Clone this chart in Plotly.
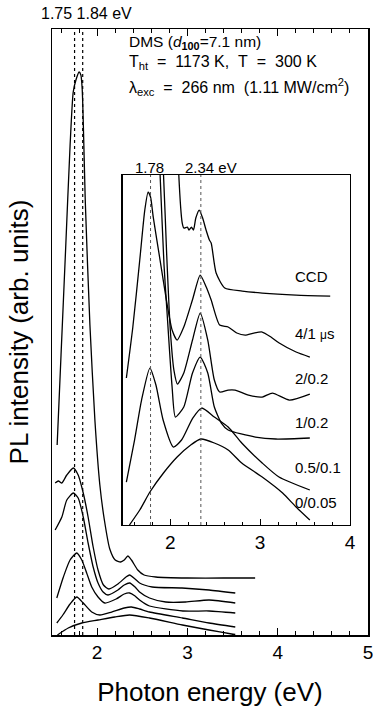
import plotly.graph_objects as go

# ---------------- main panel data (photon energy eV, intensity arb.) ----------------
ccd_main_e = [1.557, 1.60, 1.65, 1.70, 1.735, 1.765, 1.80, 1.82, 1.835, 1.87, 1.92, 1.975,
              2.03, 2.08, 2.14, 2.20, 2.26, 2.30, 2.34, 2.38, 2.45, 2.52, 2.65, 3.0, 3.4, 3.75]
ccd_main_i = [19.0, 28.0, 38.4, 48.9, 54.3, 55.5, 56.3, 56.0, 54.5, 43.0, 31.0, 21.5,
              15.0, 11.5, 8.6, 7.5, 7.3, 7.5, 7.9, 7.5, 6.5, 6.0, 5.8, 5.7, 5.7, 5.7]

g41_main_e = [1.535, 1.571, 1.609, 1.664, 1.736, 1.79, 1.846, 1.90, 1.956, 2.01, 2.07, 2.13,
              2.23, 2.32, 2.36, 2.42, 2.47, 2.61, 2.94, 3.24, 3.53]
g41_main_i = [15.2, 15.4, 15.2, 16.0, 16.7, 16.0, 14.2, 11.8, 8.8, 6.5, 5.0, 4.6,
              5.1, 5.8, 6.0, 5.6, 5.2, 4.8, 4.7, 4.5, 4.2]

g202_main_e = [1.535, 1.609, 1.664, 1.736, 1.79, 1.846, 1.90, 1.956, 2.01, 2.066, 2.12, 2.23,
               2.30, 2.36, 2.42, 2.47, 2.58, 2.76, 2.98, 3.24, 3.53]
g202_main_i = [10.5, 11.8, 13.5, 14.2, 13.7, 11.8, 9.2, 6.8, 5.2, 4.3, 4.0, 4.5,
               5.0, 5.2, 4.8, 4.3, 3.7, 3.3, 3.3, 3.5, 3.2]

g102_main_e = [1.553, 1.626, 1.70, 1.774, 1.83, 1.884, 1.94, 2.01, 2.085, 2.21, 2.30, 2.36,
               2.42, 2.47, 2.58, 2.95, 3.24, 3.53]
g102_main_i = [3.7, 5.8, 7.5, 8.2, 7.5, 6.2, 4.8, 3.8, 3.2, 3.6, 4.1, 4.2,
               3.9, 3.5, 2.9, 2.4, 2.4, 2.2]

g0501_main_e = [1.553, 1.62, 1.70, 1.774, 1.846, 1.94, 2.03, 2.16, 2.30, 2.38, 2.47, 2.58,
                2.945, 3.24, 3.53]
g0501_main_i = [1.2, 2.0, 3.1, 3.8, 3.2, 2.3, 2.0, 2.3, 2.7, 2.8, 2.6, 2.3,
                1.7, 1.2, 0.8]

g0005_main_e = [1.56, 1.68, 1.83, 2.01, 2.195, 2.36, 2.58, 2.945, 3.24, 3.49, 3.53]
g0005_main_i = [0.0, 0.7, 1.2, 1.5, 1.8, 2.0, 1.7, 1.0, 0.5, 0.1, 0.05]

main_marks = [1.75, 1.84]          # eV, dotted lines in main panel

# ---------------- inset data ----------------
ccd_ins_e = [2.085, 2.094, 2.133, 2.151, 2.19, 2.208, 2.235, 2.258, 2.284, 2.322, 2.36, 2.398,
             2.435, 2.455, 2.51, 2.606, 2.8, 3.023, 3.4, 3.78]
ccd_ins_i = [38.0, 35.1, 30.2, 29.7, 29.8, 29.5, 29.8, 29.5, 30.7, 31.5, 30.7, 29.5,
             28.5, 28.2, 25.2, 23.7, 23.4, 23.2, 23.0, 22.9]

g41_ins_e = [1.511, 1.583, 1.66, 1.716, 1.753, 1.78, 1.81, 1.886, 1.962, 2.02, 2.076, 2.15,
             2.246, 2.333, 2.40, 2.455, 2.549, 2.644, 2.74, 2.833, 2.93, 3.023, 3.12, 3.212, 3.40, 3.553]
g41_ins_i = [14.7, 19.8, 26.5, 31.5, 33.3, 32.8, 30.8, 26.5, 22.2, 19.5, 18.5, 19.8,
             22.5, 25.0, 23.8, 22.5, 20.0, 19.8, 19.2, 19.0, 19.2, 19.3, 18.8, 18.2, 17.3, 16.8]

g202_ins_e = [1.90, 1.924, 1.96, 2.0, 2.04, 2.08, 2.15, 2.247, 2.333, 2.417, 2.49, 2.549,
              2.644, 2.72, 2.87, 3.023, 3.136, 3.326, 3.553]
g202_ins_i = [38.0, 35.1, 27.0, 19.5, 15.5, 14.1, 15.2, 18.5, 21.2, 18.5, 14.5, 13.3,
              13.5, 13.5, 13.0, 12.8, 13.2, 12.5, 13.1]

g102_ins_e = [1.87, 1.886, 1.93, 1.962, 2.02, 2.057, 2.15, 2.247, 2.333, 2.417, 2.49, 2.568,
              2.644, 2.947, 3.174, 3.553]
g102_ins_i = [38.0, 35.1, 26.0, 21.5, 13.8, 10.8, 11.8, 15.2, 16.8, 15.2, 11.8, 10.2,
              9.5, 8.8, 8.6, 8.7]

g0501_ins_e = [1.511, 1.602, 1.68, 1.773, 1.84, 1.92, 2.034, 2.125, 2.25, 2.35, 2.49, 2.644,
               2.795, 3.023, 3.21, 3.553]
g0501_ins_i = [4.3, 8.5, 12.5, 15.7, 14.0, 10.5, 7.8, 8.5, 10.7, 11.7, 10.8, 9.8,
               8.2, 6.2, 4.8, 3.5]

g0005_ins_e = [1.545, 1.66, 1.773, 1.924, 2.076, 2.227, 2.34, 2.49, 2.644, 2.795, 3.023, 3.25,
               3.40, 3.553]
g0005_ins_i = [0.0, 1.5, 3.3, 5.2, 6.8, 8.0, 8.6, 8.2, 7.5, 6.2, 4.8, 3.2, 1.8, 0.5]

inset_marks = [1.78, 2.34]
inset_labels = ["CCD", "4/1 <span style='font-size:12px'>μ</span>s", "2/0.2", "1/0.2", "0.5/0.1", "0/0.05"]
inset_label_y = [0.591, 0.497, 0.424, 0.350, 0.277, 0.218]

FONT = "Liberation Sans, Arial, Helvetica, sans-serif"
LINE = dict(color="black", width=1.3, shape="spline", smoothing=0.6)

fig = go.Figure()

main_sets = [(ccd_main_e, ccd_main_i), (g41_main_e, g41_main_i), (g202_main_e, g202_main_i),
             (g102_main_e, g102_main_i), (g0501_main_e, g0501_main_i), (g0005_main_e, g0005_main_i)]
for e, i in main_sets:
    fig.add_trace(go.Scatter(x=e, y=i, mode="lines", line=LINE, xaxis="x", yaxis="y",
                             showlegend=False, hoverinfo="skip"))

ins_sets = [(ccd_ins_e, ccd_ins_i), (g41_ins_e, g41_ins_i), (g202_ins_e, g202_ins_i),
            (g102_ins_e, g102_ins_i), (g0501_ins_e, g0501_ins_i), (g0005_ins_e, g0005_ins_i)]
for e, i in ins_sets:
    fig.add_trace(go.Scatter(x=e, y=i, mode="lines", line=LINE, xaxis="x2", yaxis="y2",
                             showlegend=False, hoverinfo="skip"))

shapes = []
for m in main_marks:
    shapes.append(dict(type="line", xref="x", yref="y domain", x0=m, x1=m, y0=0, y1=1,
                       line=dict(color="black", width=1.2, dash="dot")))
for m in inset_marks:
    shapes.append(dict(type="line", xref="x2", yref="y2 domain", x0=m, x1=m, y0=0, y1=1,
                       line=dict(color="#555555", width=1, dash="dot")))

SP = "&nbsp;&nbsp;"
ann = [
    dict(text="1.75 1.84 eV", x=0.109, y=1.026, xref="paper", yref="paper",
         showarrow=False, font=dict(size=16), xanchor="center", yanchor="middle"),
    dict(text="DMS (<i>d</i><sub><b>100</b></sub>=7.1 nm)", x=0.237, y=0.978, xref="paper", yref="paper",
         showarrow=False, font=dict(size=15.5), xanchor="left", yanchor="middle"),
    dict(text="T<sub>ht</sub>" + SP + "=" + SP + "1173 K," + SP + "T" + SP + "=" + SP + "300 K",
         x=0.237, y=0.944, xref="paper", yref="paper",
         showarrow=False, font=dict(size=16), xanchor="left", yanchor="middle"),
    dict(text="λ<sub>exc</sub>" + SP + "=" + SP + "266 nm" + SP + "(1.11 MW/cm<sup>2</sup>)",
         x=0.237, y=0.904, xref="paper", yref="paper",
         showarrow=False, font=dict(size=16), xanchor="left", yanchor="middle"),
    dict(text="1.78", x=0.310, y=0.772, xref="paper", yref="paper",
         showarrow=False, font=dict(size=15), xanchor="center", yanchor="middle"),
    dict(text="2.34 eV", x=0.414, y=0.772, xref="paper", yref="paper",
         showarrow=False, font=dict(size=15), xanchor="left", yanchor="middle"),
]
for lab, yy in zip(inset_labels, inset_label_y):
    ann.append(dict(text=lab, x=0.762, y=yy, xref="paper", yref="paper", showarrow=False,
                    font=dict(size=15), xanchor="left", yanchor="middle"))

fig.update_layout(
    width=373, height=713,
    margin=dict(l=52, r=5, t=29, b=78, autoexpand=False),
    paper_bgcolor="white", plot_bgcolor="white",
    font=dict(family=FONT, color="black"),
    showlegend=False,
    shapes=shapes,
    annotations=ann,
    xaxis=dict(domain=[0, 1], range=[1.5, 5.0], showline=True, linecolor="black", linewidth=1.5,
               mirror="ticks", ticks="inside", ticklen=7, tickwidth=1.2, tickcolor="black",
               tick0=0, dtick=1, minor=dict(ticks="inside", ticklen=4, dtick=0.2, tickwidth=1,
                                             tickcolor="black", showgrid=False),
               showgrid=False, zeroline=False, tickfont=dict(size=19), automargin=False,
               ticklabeloverflow="allow",
               title=dict(text="Photon energy (eV)", font=dict(size=26), standoff=20)),
    yaxis=dict(domain=[0, 1], range=[0, 60.6], showline=True, linecolor="black", linewidth=1.5,
               mirror=True, ticks="", showticklabels=False, showgrid=False, zeroline=False,
               automargin=False,
               title=dict(text="PL intensity (arb. units)", font=dict(size=26), standoff=14)),
    xaxis2=dict(domain=[0.2237, 0.943], anchor="y2", range=[1.47, 4.0], showline=True,
                linecolor="black", linewidth=1.3, mirror=True, ticks="inside", ticklen=6,
                tickwidth=1.1, tickcolor="black", tick0=0, dtick=1,
                minor=dict(ticks="inside", ticklen=3, dtick=0.2, tickwidth=1, tickcolor="black",
                           showgrid=False),
                showgrid=False, zeroline=False, tickfont=dict(size=19), automargin=False,
                ticklabeloverflow="allow"),
    yaxis2=dict(domain=[0.1815, 0.759], anchor="x2", range=[0, 35], showline=True,
                linecolor="black", linewidth=1.3, mirror=True, ticks="", showticklabels=False,
                showgrid=False, zeroline=False, automargin=False),
)

fig.write_html("out.html", config={"displayModeBar": False, "staticPlot": True},
               post_script="document.body.style.margin='0px';document.body.style.padding='0px';")
